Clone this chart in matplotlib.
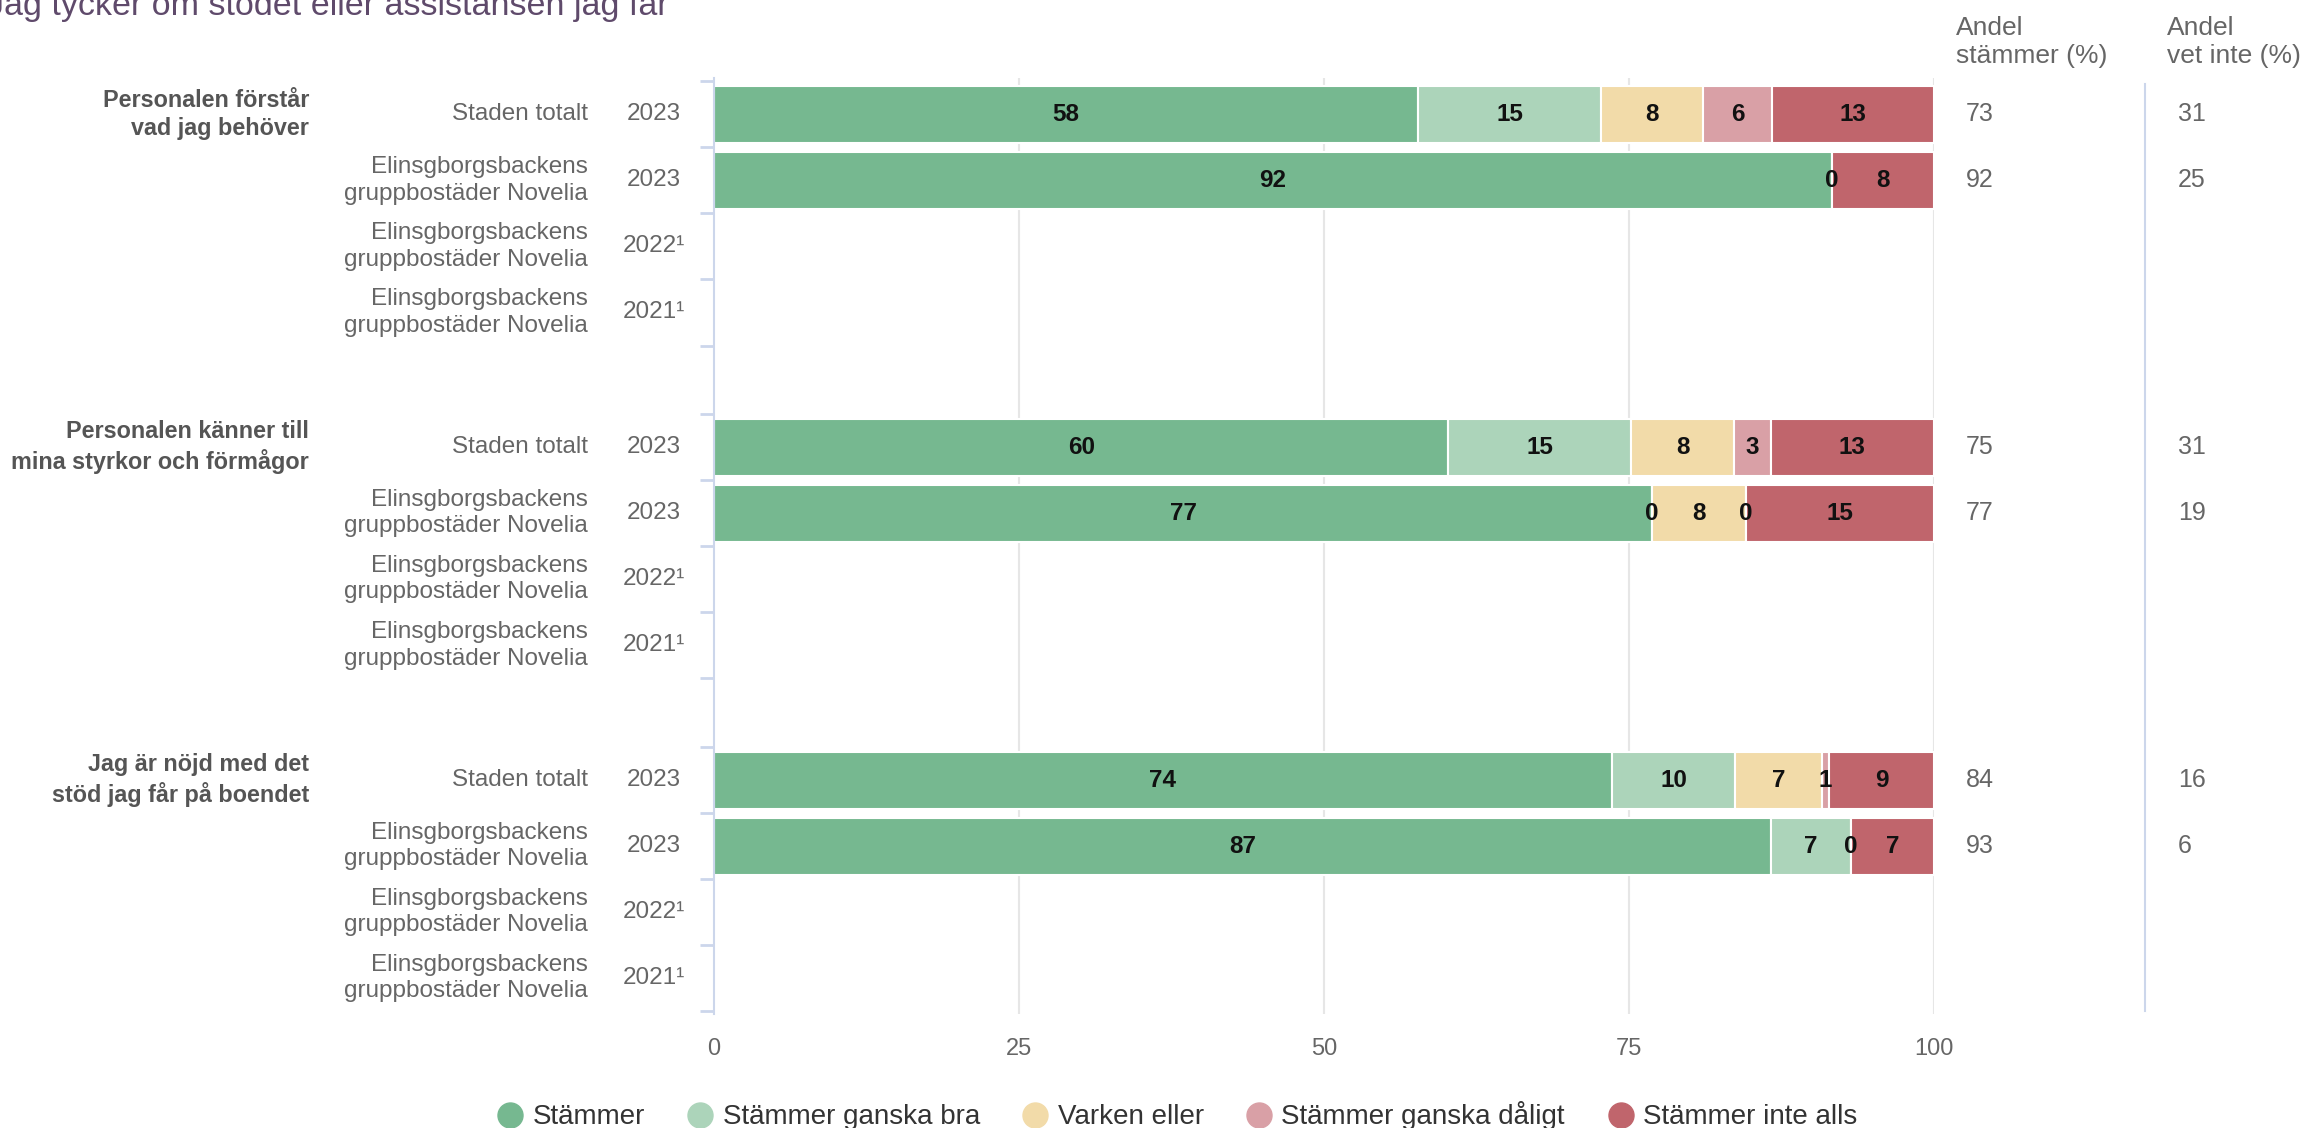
import numpy as np
import matplotlib.pyplot as plt
from matplotlib.lines import Line2D

plt.rcParams['font.family'] = ['Liberation Sans', 'DejaVu Sans']

title = "Jag tycker om stödet eller assistansen jag får"
questions = [
    "Personalen förstår\nvad jag behöver",
    "Personalen känner till\nmina styrkor och förmågor",
    "Jag är nöjd med det\nstöd jag får på boendet",
]
units = [
    "Staden totalt",
    "Elinsgborgsbackens\ngruppbostäder Novelia",
    "Elinsgborgsbackens\ngruppbostäder Novelia",
    "Elinsgborgsbackens\ngruppbostäder Novelia",
]
years = ["2023", "2023", "2022¹", "2021¹"]
categories = ["Stämmer", "Stämmer ganska bra", "Varken eller",
              "Stämmer ganska dåligt", "Stämmer inte alls"]
colors = ["#76b890", "#acd4ba", "#f2dba9", "#d9a0a6", "#c0656c"]

# per question: Staden totalt 2023, Elinsgborgsbackens 2023 (2022/2021 saknas)
values = [
    [[57.7, 15.0, 8.4, 5.6, 13.3], [91.6, 0, None, None, 8.4]],
    [[60.2, 15.0, 8.4, 3.0, 13.4], [76.9, 0, 7.7, 0, 15.4]],
    [[73.6, 10.1, 7.1, 0.6, 8.6], [86.6, 6.6, 0, None, 6.8]],
]
andel_stammer = [[73, 92], [75, 77], [84, 93]]
andel_vet_inte = [[31, 25], [31, 19], [16, 6]]

GROUP_STEP = 5.04
grey = "#666666"
axis_col = "#ccd6eb"

fig = plt.figure(figsize=(23.04, 11.28), dpi=100)
ax = fig.add_axes([714/2304, 1 - 1014/1128, 1220/2304, 936/1128])
ytr = ax.get_yaxis_transform()

for g, rows in enumerate(values):
    for i, row in enumerate(rows):
        y = g*GROUP_STEP + i
        left = 0
        for c, v in enumerate(row):
            if v is None:
                continue
            ax.barh(y, v, left=left, height=0.86, color=colors[c],
                    edgecolor="white", linewidth=1.5, zorder=2)
            ax.text(left + v/2, y, f"{v:.0f}", ha="center", va="center",
                    fontsize=17.5, fontweight="bold", color="#111111", zorder=3)
            left += v
        ax.text(1.026, y, str(andel_stammer[g][i]), transform=ytr,
                ha="left", va="center", fontsize=18, color=grey)
        ax.text(1.20, y, str(andel_vet_inte[g][i]), transform=ytr,
                ha="left", va="center", fontsize=18, color=grey)
    for i in range(4):
        y = g*GROUP_STEP + i
        ax.text(-0.1033, y, units[i], transform=ytr,
                ha="right", va="center", fontsize=17.5, color=grey, linespacing=1.25)
        ax.text(-0.0492, y, years[i], transform=ytr,
                ha="center", va="center", fontsize=17.5, color=grey)
    ax.text(-0.332, g*GROUP_STEP, questions[g], transform=ytr,
            ha="right", va="center", fontsize=16.8, fontweight="bold", color="#555555",
            linespacing=1.3)

# axes
ax.set_xlim(0, 100)
ax.set_ylim(2*GROUP_STEP + 3.5 + 0.04, -0.55)
ax.set_xticks([0, 25, 50, 75, 100])
ax.tick_params(axis="x", length=0, pad=17, labelsize=17, labelcolor=grey)
ticks = []
for g in range(3):
    ticks += [g*GROUP_STEP + k - 0.5 for k in range(5)]
ax.set_yticks(ticks)
ax.set_yticklabels([])
ax.tick_params(axis="y", length=10, width=2, color=axis_col, direction="out")
for s in ["top", "right", "bottom"]:
    ax.spines[s].set_visible(False)
ax.spines["left"].set_color(axis_col)
ax.spines["left"].set_linewidth(1.5)
for x in [25, 50, 75, 100]:
    ax.axvline(x, color="#e6e6e6", linewidth=1.5, zorder=0)

# right columns
fig.text(1956/2304, 1 - 42/1128, "Andel\nstämmer (%)", ha="left", va="center",
         fontsize=19, color=grey, linespacing=1.2)
fig.text(2167/2304, 1 - 42/1128, "Andel\nvet inte (%)", ha="left", va="center",
         fontsize=19, color=grey, linespacing=1.2)
fig.add_artist(Line2D([2145/2304]*2, [1 - 84/1128, 1 - 1011/1128],
                      color=axis_col, linewidth=1.5, transform=fig.transFigure))

# title (cut at the top)
fig.text(-13/2304, 1 - 15/1128, title, ha="left", va="baseline",
         fontsize=24.5, color="#5f4a6b")

# legend
handles = [Line2D([], [], marker="o", linestyle="", markersize=18,
                  markerfacecolor=col, markeredgecolor=col) for col in colors]
leg = fig.legend(handles, categories, loc="center", bbox_to_anchor=(0.511, 1 - 1116/1128),
                 ncol=5, frameon=False, fontsize=20, columnspacing=1.55,
                 handletextpad=0.35, handlelength=0.9, borderpad=0)
for t in leg.get_texts():
    t.set_color("#333333")

fig.savefig("out.png", dpi=100)
